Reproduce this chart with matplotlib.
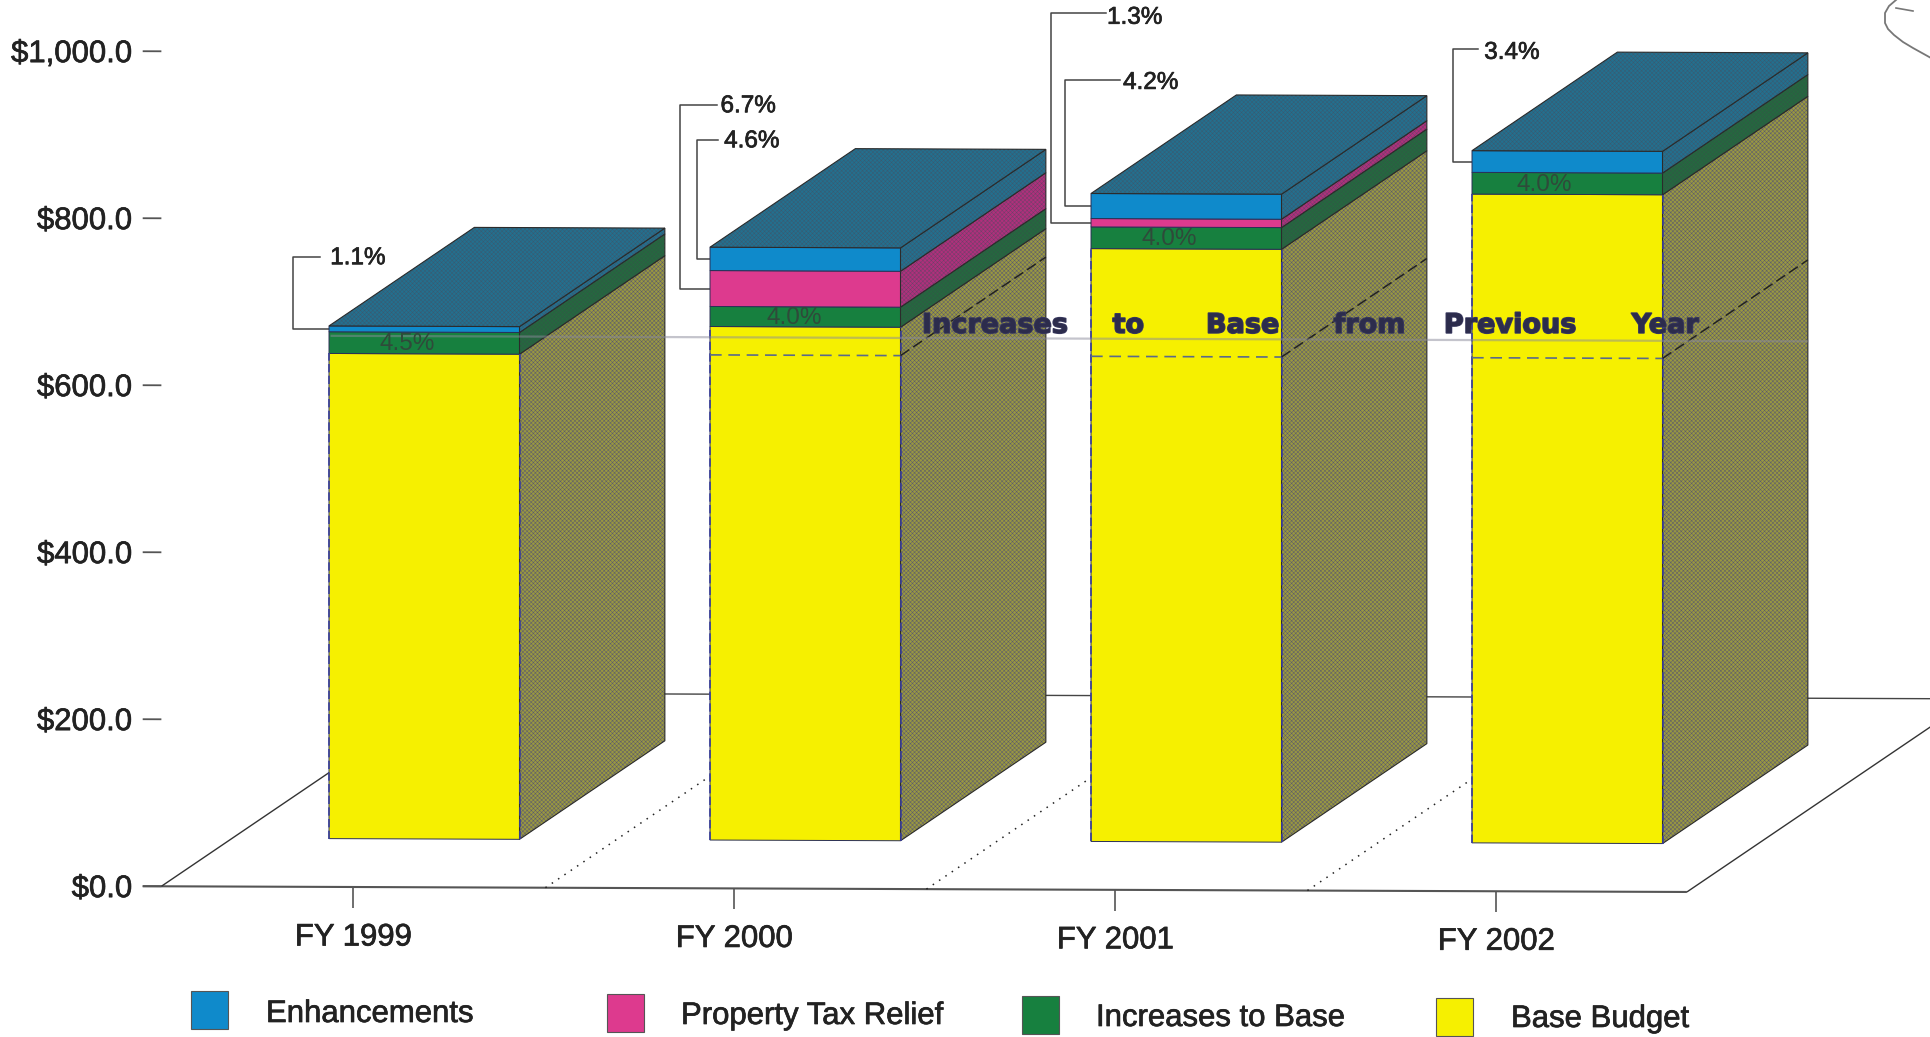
import matplotlib
matplotlib.use("Agg")
import matplotlib.pyplot as plt
import matplotlib.patheffects as pe
from matplotlib.patches import Rectangle
from matplotlib.transforms import Affine2D

plt.rcParams["font.family"] = ["Liberation Sans", "DejaVu Sans"]
plt.rcParams["hatch.linewidth"] = 0.35

# step one: data (bar heights in $)
years = ["FY 1999", "FY 2000", "FY 2001", "FY 2002"]
base_budget = [581, 615, 710, 777]
increases = [26, 24, 26, 26]
tax_relief = [0, 43, 10, 0]
enhancements = [7, 28, 30, 26]
yticks = [0, 200, 400, 600, 800, 1000]
increase_labels = ["4.5%", "4.0%", "4.0%", "4.0%"]
label_shift = [-0.045, -0.03, -0.045, -0.06]
words = ["Increases", "to", "Base", "from", "Previous", "Year"]
word_x = [1.684, 2.034, 2.334, 2.667, 3.036, 3.443]

series_names = ["Enhancements", "Property Tax Relief", "Increases to Base", "Base Budget"]
front_colors = {"base": "#F6F000", "inc": "#17803F", "tax": "#DD3A8E", "enh": "#0F8ACB"}
side_colors = {"base": "#9A9840", "inc": "#25683F", "tax": "#B0307C", "enh": "#23708F"}
side_hatch = {"base": "#5A5A70", "inc": "#2F5A45", "tax": "#70406A", "enh": "#3A5A70"}
top_color = "#23708F"
top_hatch = "#3A5A70"

# leader labels: bar, which segment, text, text x, line start, elbow x, line height, text height
leaders = [
    (0, "enh", "1.1%", -0.061, -0.087, -0.158, 755, 753),
    (1, "tax", "6.7%", 0.9635, 0.954, 0.857, 936, 935),
    (1, "enh", "4.6%", 0.973, 0.957, 0.902, 895, 893),
    (2, "tax", "1.3%", 1.978, 1.975, 1.83, 1047, 1041),
    (2, "enh", "4.2%", 2.02, 2.011, 1.869, 966, 963),
    (3, "enh", "3.4%", 2.968, 2.952, 2.887, 1003, 999),
]

# the fake 3d: one depth unit moves right and up, scan is a little tilted
DX = 0.3815
DY = 118
TILT = 1.7
D0 = 0.4875
D1 = 1.4875
FLOOR = 1.96
W = 0.25

heavy = [pe.withStroke(linewidth=0.5, foreground="#222222")]


def proj(x, val, depth=0):
    return x + DX * depth, val + DY * depth - TILT * x


fig = plt.figure(figsize=(19.31, 10.37), dpi=100)
ax = fig.add_axes([0, 0, 1, 1])
ax.set_xlim(-353.4 / 381, (1931 - 353.4) / 381)
ax.set_ylim(-150 / 0.835, 887 / 0.835)
ax.axis("off")


# floor
def line(p0, p1, **kw):
    ax.plot([p0[0], p1[0]], [p0[1], p1[1]], solid_capstyle="butt", **kw)


def textured(pts, color, hatch):
    ax.fill(*zip(*pts), facecolor=color, edgecolor=hatch, hatch="xxxxxxxx", lw=0, zorder=3)
    ax.fill(*zip(*pts), facecolor="none", edgecolor="#2B2B2B", lw=0.8, zorder=3)


line(proj(-0.553, 0), proj(3.5, 0), color="#555555", lw=1.5, zorder=1)
line(proj(-0.504, 0), proj(-0.504, 0, FLOOR), color="#333333", lw=1, zorder=1)
line(proj(3.5, 0), proj(3.5, 0, FLOOR), color="#333333", lw=1, zorder=1)
line(proj(-0.504, 0, FLOOR), proj(4.5, 0, FLOOR), color="#444444", lw=1, zorder=1)
for x in [0.504, 1.504, 2.504]:
    line(proj(x, 0), proj(x, 0, FLOOR), color="#222222", lw=1.1, ls=(0, (1, 4)), zorder=1)

for t in yticks:
    line(proj(-0.553, t), proj(-0.504, t), color="#555555", lw=1.3, zorder=1)
    px, py = proj(-0.58, t - 3.5)
    ax.text(px, py, "$" + format(t, ",.1f"), ha="right", va="center", fontsize=22.4,
            color="#222222", path_effects=heavy)

# bars
for i in range(4):
    left = i - W
    right = i + W
    bottom = 0
    stack = [("base", base_budget[i]), ("inc", increases[i]), ("tax", tax_relief[i]), ("enh", enhancements[i])]
    for key, h in stack:
        if h == 0:
            continue
        top = bottom + h
        face = [proj(left, bottom, D0), proj(right, bottom, D0), proj(right, top, D0), proj(left, top, D0)]
        side = [proj(right, bottom, D0), proj(right, bottom, D1), proj(right, top, D1), proj(right, top, D0)]
        ax.fill(*zip(*face), facecolor=front_colors[key], edgecolor="#2A2F55", lw=0.7, zorder=3)
        textured(side, side_colors[key], side_hatch[key])
        bottom = top
    roof = [proj(left, bottom, D0), proj(right, bottom, D0), proj(right, bottom, D1), proj(left, bottom, D1)]
    textured(roof, top_color, top_hatch)

    # blue broken edges down the yellow face
    for xx in [left, right]:
        line(proj(xx, 0, D0), proj(xx, base_budget[i], D0), color="#3A3F9A", lw=1.2, ls=(0, (5, 2)), zorder=4)

    # label on the green band
    px, py = proj(i + label_shift[i], base_budget[i] + increases[i] * 0.45, D0)
    ax.text(px, py, increase_labels[i], ha="center", va="center", fontsize=17.5, color="#2F4A3A", zorder=6)

    # tick and year
    line(proj(i, 0), proj(i, -25), color="#555555", lw=1.2, zorder=1)
    px, py = proj(i, -60.5)
    ax.text(px, py, years[i], ha="center", va="center", fontsize=22.4, color="#222222", path_effects=heavy)

# previous year base carried over as a dashed line
for i in [1, 2, 3]:
    line(proj(i - W, base_budget[0], D0), proj(i + W, base_budget[0], D0),
         color="#5A6A8A", lw=1.2, ls=(0, (7, 4)), zorder=5)
    line(proj(i + W, base_budget[0], D0), proj(i + W, base_budget[0], D1),
         color="#222222", lw=1.1, ls=(0, (7, 3)), zorder=5)

# grey streak behind the caption, it is in the scan
line(proj(-0.06, 660, 0), proj(3.82, 660, 0), color="#8A8A9A", lw=1.6, alpha=0.5, zorder=5)

# caption words
for word, x in zip(words, word_x):
    ax.text(x, 672, word, ha="center", va="center", fontsize=19.5, fontweight="bold",
            family="DejaVu Sans", color="#2C2C4C", zorder=7,
            path_effects=[pe.withStroke(linewidth=1.2, foreground="#3A3A60")])

# leaders
for bar, seg, txt, tx, sx, ex, ly, ty in leaders:
    low = base_budget[bar] + increases[bar]
    if seg == "tax":
        mid = low + tax_relief[bar] / 2
    else:
        mid = low + tax_relief[bar] + enhancements[bar] / 2
    endx, endy = proj(bar - W, mid, D0)
    ax.plot([sx, ex, ex, endx], [ly, ly, endy, endy], color="#444444", lw=1.1, zorder=2)
    ax.text(tx, ty, txt, ha="left", va="center", fontsize=17.5, color="#222222", path_effects=heavy)

# legend is laid out by hand in reference pixels, top left origin
pix = Affine2D().scale(1, -1).translate(0, 1037)
swatch_x = [191, 607, 1022, 1436]
swatch_y = [991, 994, 996, 998]
label_x = [266, 681, 1096, 1511]
label_y = [1014, 1016, 1018, 1019]
legend_colors = [front_colors["enh"], front_colors["tax"], front_colors["inc"], front_colors["base"]]
for name, c, sx, sy, lx, ly in zip(series_names, legend_colors, swatch_x, swatch_y, label_x, label_y):
    ax.add_patch(Rectangle((sx, sy), 37, 38, facecolor=c, edgecolor="#555555", lw=0.8, transform=pix, clip_on=False))
    ax.text(lx, ly, name, ha="left", va="center", fontsize=22.4, color="#222222", transform=pix, path_effects=heavy)

# pen mark in the corner
ax.plot([1896, 1889, 1885, 1885, 1888, 1894, 1903, 1913, 1931], [0, 6, 13, 23, 29, 35, 42, 48, 58],
        color="#777777", lw=1.3, transform=pix)
ax.plot([1896, 1913], [8, 11], color="#777777", lw=1.2, transform=pix)

fig.savefig("out.png", dpi=100, facecolor="white")
